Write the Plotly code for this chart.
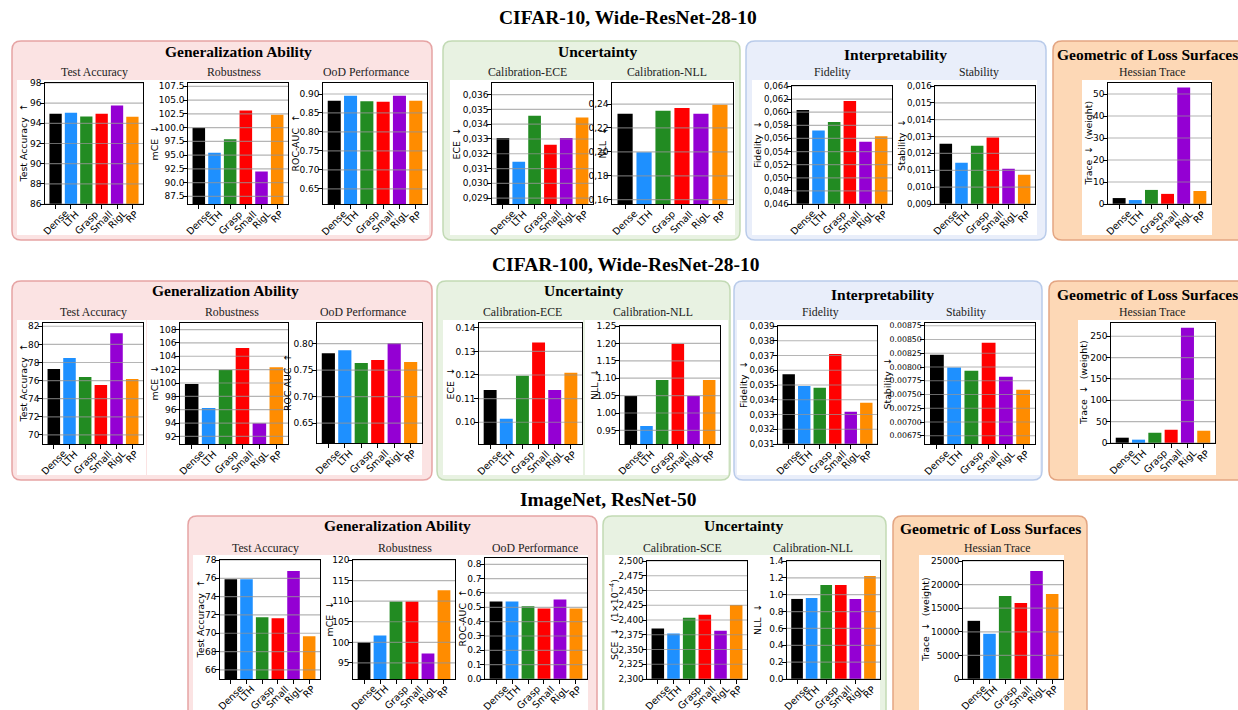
import plotly.graph_objects as go

W, H = 1238, 710

# ---------------- data ----------------
methods = ["Dense", "LTH", "Grasp", "Small", "RigL", "RP"]
bar_colors = ["#000000", "#1e90ff", "#228b22", "#ff0000", "#9400d3", "#ff8c00"]

# CIFAR-10, Wide-ResNet-28-10
c10_test_acc = [94.96, 95.06, 94.69, 94.96, 95.77, 94.66]
c10_mce = [99.98, 95.44, 97.86, 103.08, 92.0, 102.35]
c10_ood = [0.8824, 0.8956, 0.8806, 0.8798, 0.8956, 0.8824]
c10_ece = [0.03306, 0.03146, 0.03458, 0.03261, 0.03306, 0.03446]
c10_nll = [0.2319, 0.1996, 0.2344, 0.2367, 0.2319, 0.2394]
c10_fidelity = [0.06035, 0.0572, 0.05852, 0.06172, 0.05548, 0.05634]
c10_stability = [0.01257, 0.01145, 0.01245, 0.01294, 0.01109, 0.01074]
c10_hessian = [2.7, 1.8, 6.4, 4.6, 53.0, 5.9]

# CIFAR-100, Wide-ResNet-28-10
c100_test_acc = [77.28, 78.49, 76.4, 75.52, 81.23, 76.18]
c100_mce = [99.85, 96.27, 101.94, 105.22, 93.99, 102.34]
c100_ood = [0.7819, 0.7875, 0.7631, 0.7688, 0.8006, 0.765]
c100_ece = [0.1136, 0.1015, 0.1197, 0.1338, 0.1136, 0.1209]
c100_nll = [1.049, 0.963, 1.095, 1.199, 1.049, 1.095]
c100_fidelity = [0.03573, 0.03494, 0.03481, 0.03711, 0.03319, 0.03379]
c100_stability = [0.008223, 0.007992, 0.007932, 0.008441, 0.007823, 0.007586]
c100_hessian = [12.4, 7.8, 24.0, 31.0, 270.0, 28.7]

# ImageNet, ResNet-50
in_test_acc = [75.91, 75.91, 71.74, 71.63, 76.79, 69.66]
in_mce = [100.05, 101.68, 109.9, 109.9, 97.28, 112.67]
in_ood = [0.541, 0.541, 0.508, 0.492, 0.555, 0.492]
in_sce = [2.3856, 2.3772, 2.4037, 2.4087, 2.3817, 2.4256]
in_nll = [0.950, 0.962, 1.116, 1.116, 0.950, 1.2226]
in_hessian = [12324, 9577, 17606, 16127, 22887, 18028]

# tick values
c10_acc_ticks = [86, 88, 90, 92, 94, 96, 98]
c10_mce_ticks = [87.5, 90.0, 92.5, 95.0, 97.5, 100.0, 102.5, 105.0, 107.5]
c10_ood_ticks = [0.65, 0.70, 0.75, 0.80, 0.85, 0.90]
c10_ece_ticks = [0.029, 0.030, 0.031, 0.032, 0.033, 0.034, 0.035, 0.036]
c10_nll_ticks = [0.16, 0.18, 0.20, 0.22, 0.24]
c10_fid_ticks = [0.046, 0.048, 0.050, 0.052, 0.054, 0.056, 0.058, 0.060, 0.062, 0.064]
c10_stab_ticks = [0.009, 0.010, 0.011, 0.012, 0.013, 0.014, 0.015, 0.016]
c10_hess_ticks = [0, 10, 20, 30, 40, 50]

c100_acc_ticks = [70, 72, 74, 76, 78, 80, 82]
c100_mce_ticks = [92, 94, 96, 98, 100, 102, 104, 106, 108]
c100_ood_ticks = [0.65, 0.70, 0.75, 0.80]
c100_ece_ticks = [0.10, 0.11, 0.12, 0.13, 0.14]
c100_nll_ticks = [0.95, 1.00, 1.05, 1.10, 1.15, 1.20, 1.25]
c100_fid_ticks = [0.031, 0.032, 0.033, 0.034, 0.035, 0.036, 0.037, 0.038, 0.039]
c100_stab_ticks = [0.00675, 0.00700, 0.00725, 0.00750, 0.00775, 0.00800, 0.00825, 0.00850, 0.00875]
c100_hess_ticks = [0, 50, 100, 150, 200, 250]

in_acc_ticks = [66, 68, 70, 72, 74, 76, 78]
in_mce_ticks = [95, 100, 105, 110, 115, 120]
in_ood_ticks = [0.0, 0.1, 0.2, 0.3, 0.4, 0.5, 0.6, 0.7, 0.8]
in_sce_ticks = [2.300, 2.325, 2.350, 2.375, 2.400, 2.425, 2.450, 2.475, 2.500]
in_nll_ticks = [0.0, 0.2, 0.4, 0.6, 0.8, 1.0, 1.2, 1.4]
in_hess_ticks = [0, 5000, 10000, 15000, 20000, 25000]

# ---------------- panel specs ----------------
# (values, y label, y range, ticks, decimals, comma, pixel box (x0, x1, ytop, ybottom), tick font size, ylabel x)
panels = [
    (c10_test_acc, "Test Accuracy  ↑", [86, 98], c10_acc_ticks, 0, False, (45, 143, 83, 204), 9.0, 23),
    (c10_mce, "mCE  ↓", [86.1, 108.1], c10_mce_ticks, 1, False, (188, 288, 83, 204), 9.0, 154),
    (c10_ood, "ROC-AUC  ↑", [0.610, 0.929], c10_ood_ticks, 2, False, (323, 427, 83, 204), 9.0, 295),
    (c10_ece, "ECE  ↓", [0.0286, 0.03679], c10_ece_ticks, 3, True, (492, 593, 83, 204), 9.0, 456),
    (c10_nll, "NLL  ↓", [0.1564, 0.2576], c10_nll_ticks, 2, True, (612, 733, 83, 204), 9.0, 602),
    (c10_fidelity, "Fidelity  ↓", [0.046, 0.064], c10_fid_ticks, 3, True, (792, 892, 86, 204), 8.6, 758),
    (c10_stability, "Stability  ↓", [0.009, 0.016], c10_stab_ticks, 3, True, (935, 1035, 86, 204), 8.6, 902),
    (c10_hessian, "Trace  ↓  (weight)", [0, 55], c10_hess_ticks, 0, False, (1108, 1211, 83, 204), 9.0, 1088),

    (c100_test_acc, "Test Accuracy  ↑", [69.0, 82.36], c100_acc_ticks, 0, False, (43, 143, 323, 444), 9.0, 23),
    (c100_mce, "mCE  ↓", [90.87, 108.98], c100_mce_ticks, 0, False, (180, 288, 323, 444), 9.0, 154),
    (c100_ood, "ROC-AUC  ↑", [0.6125, 0.8387], c100_ood_ticks, 2, False, (317, 422, 323, 443), 9.0, 288),
    (c100_ece, "ECE  ↓", [0.0908, 0.142], c100_ece_ticks, 2, False, (479, 582, 323, 444), 9.0, 450),
    (c100_nll, "NLL  ↓", [0.911, 1.25], c100_nll_ticks, 2, False, (620, 720, 326, 444), 9.0, 594),
    (c100_fidelity, "Fidelity  ↓", [0.031, 0.039], c100_fid_ticks, 3, True, (778, 877, 326, 444), 8.8, 743),
    (c100_stability, "Stability  ↓", [0.0066, 0.0088], c100_stab_ticks, 5, False, (925, 1035, 323, 444), 7.8, 887),
    (c100_hessian, "Trace  ↓  (weight)", [0, 281], c100_hess_ticks, 0, False, (1111, 1215, 323, 443), 9.0, 1084),

    (in_test_acc, "Test Accuracy  ↑", [65.0, 78], in_acc_ticks, 0, False, (220, 320, 560, 679), 9.0, 200),
    (in_mce, "mCE  ↓", [91.1, 120], in_mce_ticks, 0, False, (353, 455, 560, 679), 9.0, 329),
    (in_ood, "ROC-AUC  ↑", [0, 0.844], in_ood_ticks, 1, False, (485, 587, 558, 679), 9.0, 462),
    (in_sce, "SCE  ↓  (1×10<sup>−4</sup>)", [2.3, 2.5], in_sce_ticks, 3, True, (647, 747, 561, 679), 8.8, 614),
    (in_nll, "NLL  ↓", [0, 1.4], in_nll_ticks, 1, False, (787, 880, 561, 679), 9.0, 757),
    (in_hessian, "Trace  ↓  (weight)", [0, 25000], in_hess_ticks, 0, False, (963, 1063, 561, 679), 9.0, 925),
]

SANS = "DejaVu Sans"
SERIF = "Liberation Serif"


def px(x):
    return x / W


def py(y):
    return 1 - y / H


def rrect_path(x0, y0, x1, y1, r):
    rx, ry = r / W, r / H
    X0, X1, Y0, Y1 = px(x0), px(x1), py(y0), py(y1)
    return (f"M {X0 + rx},{Y0} L {X1 - rx},{Y0} Q {X1},{Y0} {X1},{Y0 - ry} "
            f"L {X1},{Y1 + ry} Q {X1},{Y1} {X1 - rx},{Y1} L {X0 + rx},{Y1} "
            f"Q {X0},{Y1} {X0},{Y1 + ry} L {X0},{Y0 - ry} Q {X0},{Y0} {X0 + rx},{Y0} Z")


fig = go.Figure()
shapes = []
annotations = []

# ---------------- section boxes ----------------
PINK = ("#fbe3e3", "#e6a4a4")
GREEN = ("#e8f2e2", "#c2dab4")
BLUE = ("#e9eefa", "#b9cbea")
ORANGE = ("#fdd8b6", "#e3a582")

boxes = [
    (12, 41, 432, 240, PINK), (443, 41, 740, 240, GREEN), (746, 41, 1046, 240, BLUE), (1053, 41, 1252, 240, ORANGE),
    (12, 281, 432, 480, PINK), (437, 281, 730, 480, GREEN), (734, 281, 1042, 480, BLUE), (1049, 281, 1252, 480, ORANGE),
    (188, 516, 597, 725, PINK), (603, 516, 886, 725, GREEN), (893, 516, 1087, 725, ORANGE),
]
for x0, y0, x1, y1, (fill, line) in boxes:
    shapes.append(dict(type="path", path=rrect_path(x0, y0, x1, y1, 9), xref="paper", yref="paper",
                       fillcolor=fill, line=dict(color=line, width=1.5), layer="below"))

whites = [
    (17, 80, 429, 235), (450, 80, 735, 235), (752, 80, 1037, 235), (1082, 80, 1212, 235),
    (17, 320, 146, 475), (147, 320, 422, 475), (443, 320, 583, 475), (585, 320, 728, 475),
    (737, 320, 1040, 475), (1078, 320, 1216, 475),
    (193, 555, 588, 712), (605, 555, 880, 712), (919, 555, 1064, 712),
]
for x0, y0, x1, y1 in whites:
    shapes.append(dict(type="rect", x0=px(x0), x1=px(x1), y0=py(y1), y1=py(y0), xref="paper", yref="paper",
                       fillcolor="white", line=dict(width=0), layer="below"))

# ---------------- subplots ----------------
layout_axes = {}
for i, (vals, ylab, yr, ticks, dec, comma, (x0, x1, yt, yb), tfs, ylx) in enumerate(panels, start=1):
    sx = "" if i == 1 else str(i)
    xname, yname = "x" + sx, "y" + sx
    fig.add_trace(go.Bar(x=methods, y=vals, marker=dict(color=bar_colors, line=dict(width=0)),
                         xaxis=xname, yaxis=yname, showlegend=False, hoverinfo="x+y"))
    labels = []
    for t in ticks:
        s = f"{t:.{dec}f}"
        if comma:
            s = s.replace(".", ",")
        labels.append(s)
    layout_axes["xaxis" + sx] = dict(
        domain=[px(x0), px(x1)], anchor=yname, type="category", range=[-0.69, 5.69],
        showticklabels=False,
        showline=True, mirror=True, linecolor="black", linewidth=1.3,
        ticks="outside", ticklen=3.5, tickwidth=1, tickcolor="black",
        showgrid=False, zeroline=False, automargin=False, fixedrange=True)
    layout_axes["yaxis" + sx] = dict(
        domain=[py(yb), py(yt)], anchor=xname, range=yr, tickmode="array", tickvals=ticks, ticktext=labels,
        tickfont=dict(family=SANS, size=tfs, color="black"), ticklabelstandoff=-3,
        showline=True, mirror=True, linecolor="black", linewidth=1.3,
        ticks="outside", ticklen=3.5, tickwidth=1, tickcolor="black",
        showgrid=False, zeroline=False, automargin=False, fixedrange=True)
    for t in ticks:
        if yr[0] <= t <= yr[1]:
            shapes.append(dict(type="line", xref=xname + " domain", yref=yname, x0=0, x1=1, y0=t, y1=t,
                               line=dict(color="rgba(150,150,150,0.7)", width=1.2), layer="above"))
    # rotated category labels, centred under their ticks (matplotlib style)
    for m in methods:
        annotations.append(dict(text=m, x=m, y=0, xref=xname, yref=yname + " domain",
                                showarrow=False, textangle=-45, xanchor="center", yanchor="top",
                                yshift=-3, borderpad=0,
                                font=dict(family=SANS, size=9.6, color="black")))
    # y-axis label, rotated
    annotations.append(dict(text=ylab, x=px(ylx), y=py((yt + yb) / 2), xref="paper", yref="paper",
                            showarrow=False, textangle=-90, xanchor="center", yanchor="middle",
                            font=dict(family=SANS, size=9.4, color="black")))


# ---------------- titles ----------------
def ann(text, x, y, size, bold=False, color="black"):
    annotations.append(dict(text=f"<b>{text}</b>" if bold else text, x=px(x), y=py(y), xref="paper", yref="paper",
                            showarrow=False, xanchor="center", yanchor="middle",
                            font=dict(family=SERIF, size=size, color=color)))


ann("CIFAR-10, Wide-ResNet-28-10", 628, 18, 19.5, bold=True)
ann("CIFAR-100, Wide-ResNet-28-10", 626, 265, 19.5, bold=True)
ann("ImageNet, ResNet-50", 608, 500, 19.5, bold=True)

section_titles = [
    ("Generalization Ability", 238, 51), ("Uncertainty", 597, 51), ("Interpretability", 895, 54),
    ("Geometric of Loss Surfaces", 1147, 54),
    ("Generalization Ability", 225, 290), ("Uncertainty", 583, 290), ("Interpretability", 882, 294),
    ("Geometric of Loss Surfaces", 1147, 294),
    ("Generalization Ability", 397, 525), ("Uncertainty", 743, 525), ("Geometric of Loss Surfaces", 990, 528),
]
for t, x, y in section_titles:
    ann(t, x, y, 15.5, bold=True)

subtitles = [
    ("Test Accuracy", 95, 72), ("Robustness", 234, 72), ("OoD Performance", 366, 72),
    ("Calibration-ECE", 527, 72), ("Calibration-NLL", 667, 72), ("Fidelity", 833, 72), ("Stability", 979, 72),
    ("Hessian Trace", 1152, 72),
    ("Test Accuracy", 93, 312), ("Robustness", 232, 312), ("OoD Performance", 363, 312),
    ("Calibration-ECE", 522, 312), ("Calibration-NLL", 653, 312), ("Fidelity", 820, 312), ("Stability", 966, 312),
    ("Hessian Trace", 1152, 312),
    ("Test Accuracy", 265, 548), ("Robustness", 405, 548), ("OoD Performance", 535, 548),
    ("Calibration-SCE", 682, 548), ("Calibration-NLL", 813, 548), ("Hessian Trace", 997, 548),
]
for t, x, y in subtitles:
    ann(t, x, y, 11.8, color="#222222")

fig.update_layout(
    width=W, height=H, margin=dict(l=0, r=0, t=0, b=0),
    paper_bgcolor="white", plot_bgcolor="white",
    bargap=0.2, showlegend=False,
    shapes=shapes, annotations=annotations,
    **layout_axes,
)

fig.write_html("out.html")
